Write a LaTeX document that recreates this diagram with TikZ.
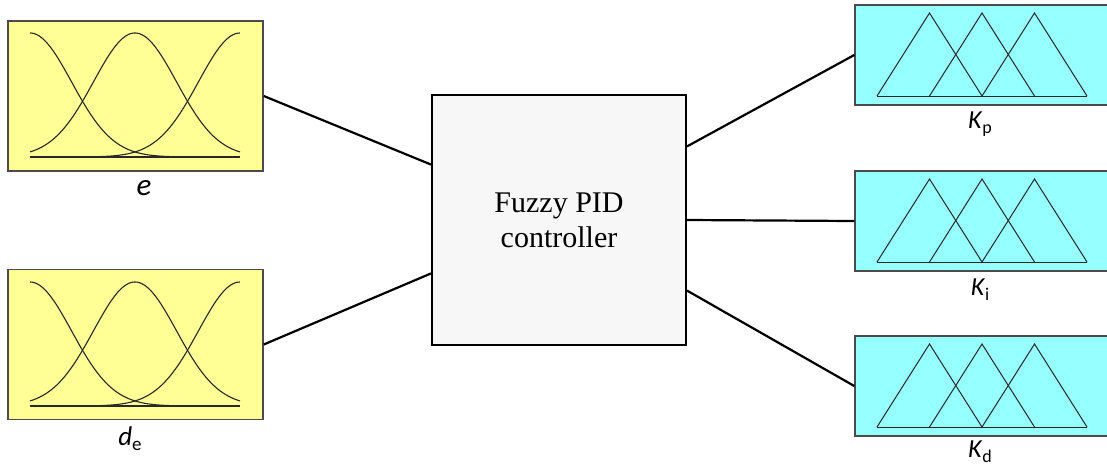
\documentclass[tikz,border=0pt]{standalone}
\usepackage{fontspec}
\setmainfont{Liberation Serif}
\newfontfamily\labfont{Carlito}
\usetikzlibrary{calc}
\definecolor{fyellow}{RGB}{255,255,150}
\definecolor{fcyan}{RGB}{150,255,255}
\definecolor{ctrlgray}{RGB}{247,247,247}
\definecolor{bordergray}{RGB}{75,75,75}
\definecolor{mfline}{RGB}{40,40,40}
\newcommand{\Klab}[1]{{\fontsize{26}{31}\selectfont\itshape K\/\upshape\raisebox{-0.22em}{\fontsize{18}{21}\selectfont #1}}}
\begin{document}
\begin{tikzpicture}[x=1pt,y=-1pt,
  inbox/.style={draw=bordergray, line width=1.5pt, fill=fyellow, minimum width=255pt, minimum height=150pt, inner sep=0pt},
  outbox/.style={draw=bordergray, line width=1.5pt, fill=fcyan, minimum width=260pt, minimum height=100pt, inner sep=0pt},
  ctrlbox/.style={draw=black, line width=2pt, fill=ctrlgray, minimum width=254pt, minimum height=250pt, inner sep=0pt, align=center, font=\fontsize{30}{35}\selectfont},
  conn/.style={draw=black, line width=2.2pt},
  mf/.style={draw=mfline, line width=1.1pt},
  tri/.style={draw=mfline, line width=1pt, line join=miter},
  lab/.style={font=\labfont, inner sep=0pt, anchor=base}]
\useasboundingbox (0,0) rectangle (1107,466);
\clip (0,0) rectangle (1107,466);
\fill[white] (0,0) rectangle (1107,466);

% input boxes
\node[inbox] (ein) at (135.5,96) {};
\node[inbox] (dein) at (135.5,344.5) {};
\foreach \oy in {0,249} {
  \foreach \c in {0,105,210} {
    \draw[mf] plot[domain=0:1, samples=121, smooth] ({30+210*\x},{\oy+157-124*exp(-0.5*((210*\x-\c)/41.5)^2)});
  }
  \draw[mf] (30,{\oy+157}) -- (240,{\oy+157});
}
\node[lab] (le) at (144,195) {\fontsize{31}{36}\selectfont\itshape e};
\node[lab] (lde) at (130,445) {\fontsize{27}{32}\selectfont\itshape d\/\upshape\raisebox{-0.22em}{\fontsize{19}{22}\selectfont e}};

% controller
\node[ctrlbox] (ctrl) at (559,220) {Fuzzy PID\\controller};

% output boxes
\node[outbox] (kp) at (985,55) {};
\node[outbox] (ki) at (985,221) {};
\node[outbox] (kd) at (985,386) {};
\foreach \ty in {5,171,336} {
  \foreach \a in {0,1,2} {
    \draw[tri] ({877+52.5*\a},{\ty+91}) -- ({929.5+52.5*\a},{\ty+8}) -- ({982+52.5*\a},{\ty+91});
  }
  \draw[tri] (877,{\ty+91}) -- (1087,{\ty+91});
}
\node[lab] (lkp) at (980,128) {\Klab{p}};
\node[lab] (lki) at (980,295) {\Klab{i}};
\node[lab] (lkd) at (980,457) {\Klab{d}};

% connectors
\draw[conn] (ein.east) -- ($(ctrl.north west)!0.28!(ctrl.south west)$);
\draw[conn] (dein.east) -- ($(ctrl.north west)!0.712!(ctrl.south west)$);
\draw[conn] ($(ctrl.north east)!0.208!(ctrl.south east)$) -- (kp.west);
\draw[conn] ($(ctrl.north east)!0.5!(ctrl.south east)$) -- (ki.west);
\draw[conn] ($(ctrl.north east)!0.78!(ctrl.south east)$) -- (kd.west);
\end{tikzpicture}
\end{document}
